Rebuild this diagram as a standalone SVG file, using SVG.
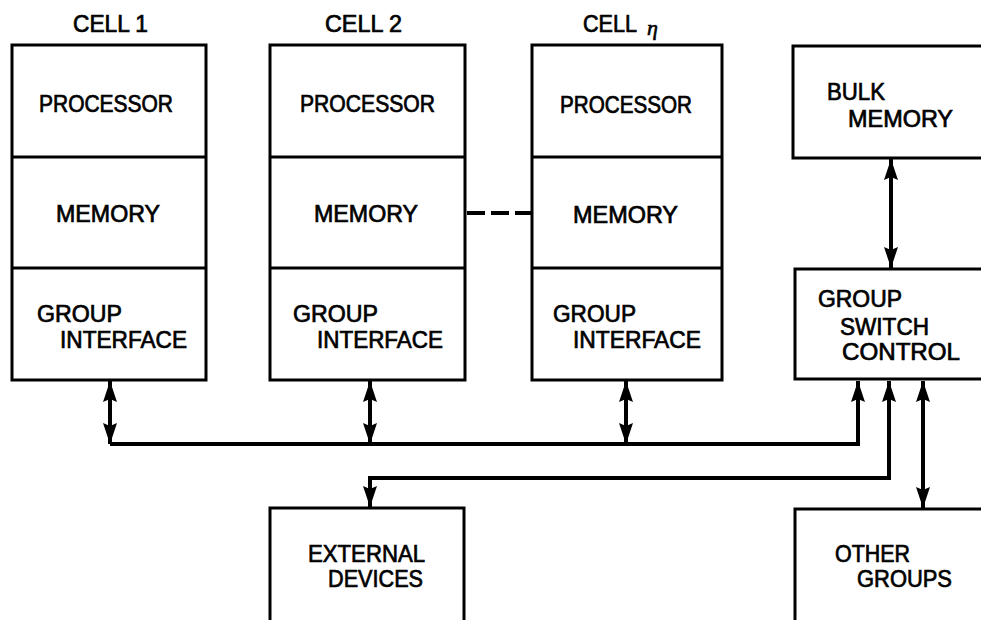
<svg xmlns="http://www.w3.org/2000/svg" width="981" height="620" viewBox="0 0 981 620">
<style>
.box{fill:none;stroke:#000;stroke-width:3;stroke-linejoin:miter}
.div{stroke:#000;stroke-width:3}
.t{font-family:"Liberation Sans",Arial,sans-serif;font-size:23.5px;fill:#000;stroke:#000;stroke-width:0.7}
.c{fill:none;stroke:#000;stroke-width:4;stroke-linejoin:miter;stroke-linecap:butt}
.dash{fill:none;stroke:#000;stroke-width:4;stroke-dasharray:18 6}
</style>
<defs>
<marker id="ah" markerUnits="userSpaceOnUse" markerWidth="22" markerHeight="18" viewBox="0 0 22 18" refX="21" refY="9" orient="auto-start-reverse">
<path d="M0,2 L21,9 L0,16 L3,9 Z" fill="#000"/>
</marker>
</defs>
<rect width="981" height="620" fill="#fff"/>

<g id="cell1">
<rect class="box" x="12" y="45" width="194" height="335"/>
<line class="div" x1="12" y1="157" x2="206" y2="157"/>
<line class="div" x1="12" y1="268" x2="206" y2="268"/>
<text class="t" x="73" y="32" textLength="75" lengthAdjust="spacingAndGlyphs">CELL 1</text>
<text class="t" x="39" y="112" textLength="134" lengthAdjust="spacingAndGlyphs">PROCESSOR</text>
<text class="t" x="56" y="222" textLength="104" lengthAdjust="spacingAndGlyphs">MEMORY</text>
<text class="t" x="37" y="322" textLength="85" lengthAdjust="spacingAndGlyphs">GROUP</text>
<text class="t" x="60" y="348" textLength="127" lengthAdjust="spacingAndGlyphs">INTERFACE</text>
</g>

<g id="cell2">
<rect class="box" x="270" y="45" width="195" height="335"/>
<line class="div" x1="270" y1="157" x2="465" y2="157"/>
<line class="div" x1="270" y1="268" x2="465" y2="268"/>
<text class="t" x="325" y="32" textLength="77" lengthAdjust="spacingAndGlyphs">CELL 2</text>
<text class="t" x="300" y="112" textLength="135" lengthAdjust="spacingAndGlyphs">PROCESSOR</text>
<text class="t" x="314" y="222" textLength="104" lengthAdjust="spacingAndGlyphs">MEMORY</text>
<text class="t" x="293" y="322" textLength="85" lengthAdjust="spacingAndGlyphs">GROUP</text>
<text class="t" x="317" y="348" textLength="126" lengthAdjust="spacingAndGlyphs">INTERFACE</text>
</g>

<g id="celln">
<rect class="box" x="532" y="45" width="190" height="335"/>
<line class="div" x1="532" y1="157" x2="722" y2="157"/>
<line class="div" x1="532" y1="268" x2="722" y2="268"/>
<text class="t" x="583" y="32" textLength="54" lengthAdjust="spacingAndGlyphs">CELL</text>
<text x="647" y="35" style="font-family:'Liberation Serif','Times New Roman',serif;font-style:italic;font-size:22px;fill:#000;stroke:#000;stroke-width:0.6">η</text>
<text class="t" x="560" y="113" textLength="132" lengthAdjust="spacingAndGlyphs">PROCESSOR</text>
<text class="t" x="573" y="223" textLength="105" lengthAdjust="spacingAndGlyphs">MEMORY</text>
<text class="t" x="553" y="322" textLength="83" lengthAdjust="spacingAndGlyphs">GROUP</text>
<text class="t" x="573" y="348" textLength="128" lengthAdjust="spacingAndGlyphs">INTERFACE</text>
</g>

<g id="bulk">
<rect class="box" x="793" y="46" width="200" height="112"/>
<text class="t" x="827" y="100" textLength="58" lengthAdjust="spacingAndGlyphs">BULK</text>
<text class="t" x="848" y="127" textLength="105" lengthAdjust="spacingAndGlyphs">MEMORY</text>
</g>

<g id="switch">
<rect class="box" x="795" y="269" width="200" height="110"/>
<text class="t" x="818" y="307" textLength="84" lengthAdjust="spacingAndGlyphs">GROUP</text>
<text class="t" x="840" y="335" textLength="89" lengthAdjust="spacingAndGlyphs">SWITCH</text>
<text class="t" x="842" y="360" textLength="118" lengthAdjust="spacingAndGlyphs">CONTROL</text>
</g>

<g id="external">
<rect class="box" x="270" y="508" width="194" height="130"/>
<text class="t" x="308" y="562" textLength="117" lengthAdjust="spacingAndGlyphs">EXTERNAL</text>
<text class="t" x="328" y="587" textLength="95" lengthAdjust="spacingAndGlyphs">DEVICES</text>
</g>

<g id="other">
<rect class="box" x="795" y="509" width="200" height="130"/>
<text class="t" x="835" y="562" textLength="75" lengthAdjust="spacingAndGlyphs">OTHER</text>
<text class="t" x="857" y="587" textLength="95" lengthAdjust="spacingAndGlyphs">GROUPS</text>
</g>

<g id="connectors">
<path class="dash" d="M467,213 H531"/>
<path class="c" d="M110,381 V444" marker-start="url(#ah)" marker-end="url(#ah)"/>
<path class="c" d="M370,381 V444" marker-start="url(#ah)" marker-end="url(#ah)"/>
<path class="c" d="M626,381 V444" marker-start="url(#ah)" marker-end="url(#ah)"/>
<path class="c" d="M110,444 H858 V381" marker-end="url(#ah)"/>
<path class="c" d="M370,507 V478 H889 V381" marker-start="url(#ah)" marker-end="url(#ah)"/>
<path class="c" d="M923,381 V508" marker-start="url(#ah)" marker-end="url(#ah)"/>
<path class="c" d="M891,159 V268" marker-start="url(#ah)" marker-end="url(#ah)"/>
</g>
</svg>
